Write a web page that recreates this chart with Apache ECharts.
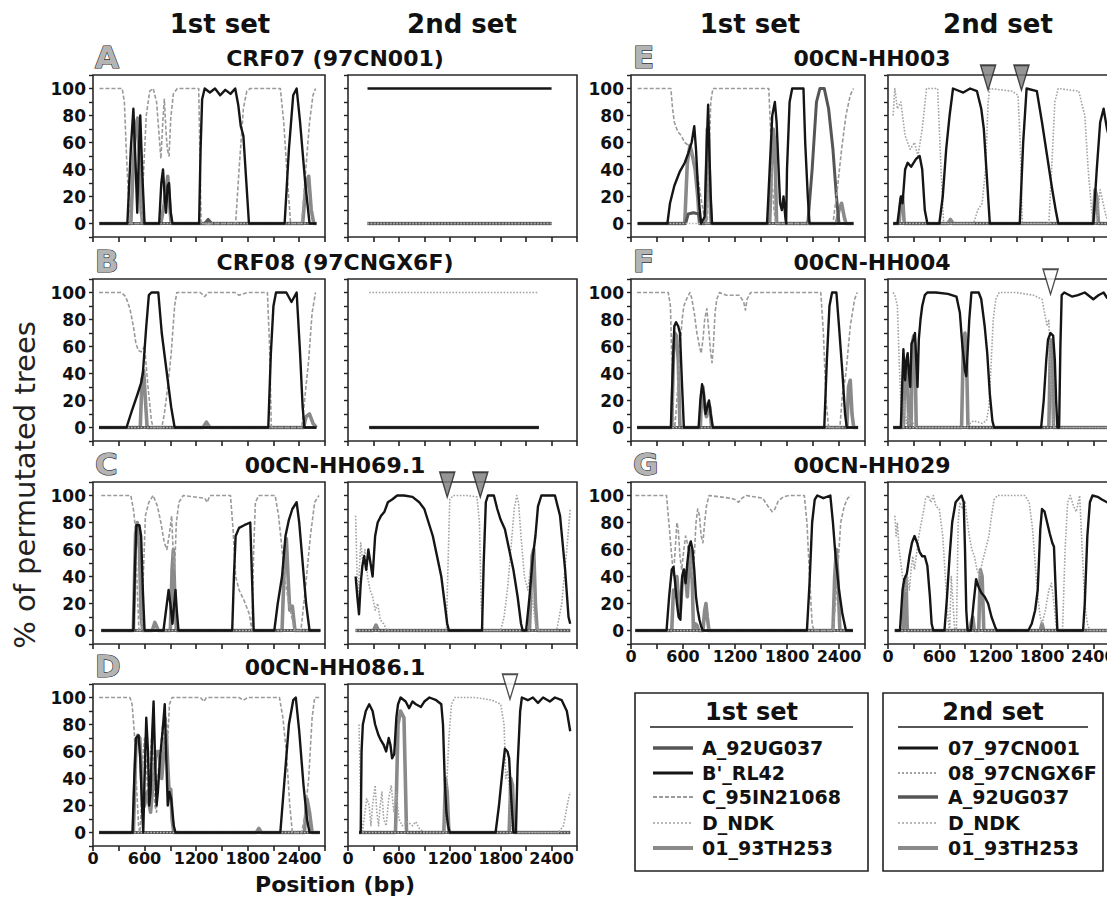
<!DOCTYPE html>
<html><head><meta charset="utf-8">
<script src="https://cdn.jsdelivr.net/npm/echarts@6/dist/echarts.min.js"></script>
<style>html,body{margin:0;padding:0;background:#fff}#c{width:1107px;height:898px}</style>
</head><body><div id="c"></div>
<script>
// ---------------- names and ticks ----------------
const set1Names = ['A_92UG037', "B'_RL42", 'C_95IN21068', 'D_NDK', '01_93TH253'];
const set2Names = ['07_97CN001', '08_97CNGX6F', 'A_92UG037', 'D_NDK', '01_93TH253'];
const xTickLabels = [0, 600, 1200, 1800, 2400];
const yTickLabels = [0, 20, 40, 60, 80, 100];
const panelLetters = ['A', 'B', 'C', 'D', 'E', 'F', 'G'];
const panelNames = ['CRF07 (97CN001)', 'CRF08 (97CNGX6F)', '00CN-HH069.1', '00CN-HH086.1', '00CN-HH003', '00CN-HH004', '00CN-HH029'];

// ---------------- A: CRF07 (97CN001) ----------------
const A1_A = [[75,0],[1300,0],[1340,3],[1380,0],[2600,0]];
const A1_B = [[75,0],[400,0],[440,55],[470,85],[495,45],[515,8],[535,55],[550,80],[575,35],[600,0],[770,0],[795,30],[815,40],[835,18],[850,8],[868,28],[885,30],[905,8],[925,0],[1235,0],[1252,55],[1270,92],[1300,100],[1360,97],[1420,100],[1480,95],[1540,99],[1600,96],[1655,100],[1690,88],[1720,72],[1750,65],[1785,30],[1815,0],[2230,0],[2280,55],[2330,95],[2370,100],[2410,75],[2470,30],[2520,0],[2600,0]];
const A1_C = [[75,100],[340,100],[365,90],[390,50],[420,10],[440,0],[560,0],[590,40],[620,80],[660,98],[700,100],[740,90],[770,65],[790,48],[812,75],[830,92],[848,70],[865,55],[885,50],[905,78],[935,96],[980,100],[1230,100],[1245,50],[1258,0],[1660,0],[1700,40],[1750,85],[1790,98],[1830,100],[2180,100],[2220,75],[2260,35],[2300,0],[2430,0],[2470,35],[2520,75],[2560,95],[2590,100]];
const A1_D = [[75,0],[2600,0]];
const A1_01 = [[75,0],[440,0],[470,45],[495,72],[520,78],[540,50],[560,10],[580,0],[790,0],[830,15],[850,25],[870,35],[890,15],[910,0],[2440,0],[2480,30],[2510,35],[2540,10],[2570,0],[2600,0]];
const A2_07 = [[230,100],[2400,100]];
const A2_08 = [[230,0],[2400,0]];
const A2_A = [[230,0],[2400,0]];
const A2_D = [[230,0],[2400,0]];
const A2_01 = [[230,0],[2400,0]];

// ---------------- B: CRF08 (97CNGX6F) ----------------
const B1_A = [[70,0],[2600,0]];
const B1_B = [[70,0],[390,0],[450,12],[520,25],[560,33],[580,40],[620,75],[650,98],[680,100],[760,100],[800,70],[860,40],[910,15],[950,0],[2040,0],[2070,55],[2100,90],[2130,100],[2250,100],[2310,93],[2370,100],[2410,55],[2440,15],[2460,0],[2600,0]];
const B1_C = [[70,100],[330,100],[380,97],[430,88],[470,75],[500,62],[530,57],[560,56],[600,60],[640,30],[680,5],[700,0],[800,0],[830,10],[870,30],[910,55],[950,90],[975,100],[1250,100],[1300,97],[1340,100],[1650,100],[1700,98],[1800,100],[2030,100],[2055,60],[2075,0],[2430,0],[2470,25],[2510,50],[2550,85],[2590,100]];
const B1_D = [[70,0],[2600,0]];
const B1_01 = [[70,0],[550,0],[570,35],[590,42],[610,20],[630,0],[1280,0],[1320,4],[1360,0],[2450,0],[2480,8],[2520,10],[2560,3],[2600,0]];
const B2_07 = [[250,0],[2250,0]];
const B2_08 = [[250,100],[2250,100]];
const B2_A = [[250,0],[2250,0]];
const B2_D = [[250,0],[2250,0]];
const B2_01 = [[250,0],[2250,0]];

// ---------------- C: 00CN-HH069.1 ----------------
const C1_A = [[96,0],[2646,0]];
const C1_B = [[96,0],[470,0],[490,50],[505,78],[540,78],[560,70],[580,30],[600,0],[820,0],[850,15],[880,30],[900,20],[925,5],[945,20],[960,30],[975,15],[995,0],[1620,0],[1640,40],[1660,70],[1700,76],[1760,78],[1830,80],[1850,40],[1870,0],[2110,0],[2150,20],[2200,40],[2240,70],[2280,82],[2320,90],[2370,95],[2400,80],[2440,50],[2480,20],[2520,0],[2646,0]];
const C1_C = [[96,100],[440,100],[470,90],[495,75],[515,30],[535,0],[565,0],[585,40],[610,85],[650,95],[700,100],[750,92],[790,80],[830,65],[860,60],[890,72],[915,85],[935,55],[950,45],[970,80],[1000,95],[1050,100],[1300,98],[1330,95],[1360,100],[1600,100],[1630,75],[1660,40],[1700,30],[1760,22],[1820,12],[1850,0],[1870,60],[1890,95],[1930,100],[2120,100],[2160,85],[2200,60],[2240,35],[2280,20],[2320,8],[2350,0],[2420,0],[2470,30],[2530,70],[2580,95],[2630,100]];
const C1_D = [[96,0],[2646,0]];
const C1_01 = [[96,0],[470,0],[495,72],[515,80],[540,60],[560,10],[580,0],[690,0],[720,6],[760,0],[900,0],[920,45],[935,60],[950,30],[970,0],[2200,0],[2230,55],[2250,68],[2270,40],[2290,15],[2320,18],[2350,0],[2646,0]];
const C2_07 = [[90,40],[110,25],[130,12],[150,35],[170,48],[190,55],[215,45],[240,60],[260,52],[290,40],[320,70],[350,80],[390,85],[430,88],[470,95],[520,97],[580,100],[660,100],[760,99],[840,95],[900,90],[950,80],[1000,70],[1050,55],[1100,40],[1140,20],[1170,5],[1190,0],[1580,0],[1600,50],[1625,95],[1650,100],[1720,100],[1760,90],[1800,82],[1850,75],[1900,60],[1950,45],[2000,25],[2040,5],[2060,0],[2100,0],[2140,25],[2180,55],[2210,70],[2240,92],[2280,100],[2440,100],[2500,85],[2560,45],[2600,10],[2620,5]];
const C2_08 = [[90,85],[100,60],[115,20],[130,40],[150,65],[175,50],[200,60],[230,40],[260,30],[290,25],[320,15],[350,20],[380,8],[420,5],[460,0],[1160,0],[1180,50],[1200,97],[1240,100],[1400,100],[1520,99],[1550,80],[1570,20],[1590,0],[1800,0],[1840,10],[1880,30],[1920,60],[1960,90],[1990,100],[2010,95],[2040,70],[2080,40],[2120,30],[2150,45],[2180,20],[2210,5],[2240,0],[2460,0],[2520,20],[2580,60],[2620,90]];
const C2_A = [[90,0],[2620,0]];
const C2_D = [[90,0],[2620,0]];
const C2_01 = [[90,0],[300,0],[330,4],[360,0],[2140,0],[2170,55],[2190,60],[2210,20],[2230,0],[2620,0]];
const C2_marks = [1170, 1560];

// ---------------- D: 00CN-HH086.1 ----------------
const D1_A = [[71,0],[2640,0]];
const D1_B = [[71,0],[460,0],[480,40],[500,70],[530,72],[550,55],[570,20],[585,0],[600,40],[620,85],[640,60],[655,20],[670,30],[690,75],[705,97],[720,60],[740,20],[755,30],[780,55],[810,75],[835,95],[850,60],[870,20],[890,30],[910,25],[940,5],[960,0],[2180,0],[2230,40],[2280,80],[2330,98],[2360,100],[2400,75],[2450,35],[2490,10],[2520,0],[2640,0]];
const D1_C = [[71,100],[430,100],[455,95],[480,75],[510,30],[530,5],[545,0],[560,15],[580,55],[600,70],[620,50],[640,25],[660,40],[680,70],[700,55],[720,20],[740,15],[760,45],[790,65],[810,80],[830,60],[850,85],[870,70],[890,95],[920,100],[1250,100],[1290,97],[1320,100],[1700,100],[1750,98],[1800,100],[2170,100],[2210,85],[2250,60],[2290,20],[2320,0],[2430,0],[2470,15],[2510,40],[2550,85],[2580,100],[2640,100]];
const D1_D = [[71,0],[2640,0]];
const D1_01 = [[71,0],[470,0],[500,65],[520,72],[545,70],[560,50],[580,18],[600,20],[630,30],[650,22],[670,15],[690,30],[720,50],[740,60],[770,60],[800,40],[830,65],[855,72],[870,50],[890,25],[905,32],[920,10],[940,0],[1900,0],[1930,3],[1960,0],[2460,0],[2490,25],[2520,15],[2550,0],[2640,0]];
const D2_07 = [[130,0],[150,0],[160,60],[175,80],[210,90],[250,95],[290,90],[320,80],[360,72],[390,68],[420,65],[450,60],[480,70],[500,65],[520,55],[545,58],[570,85],[590,95],[620,100],[680,97],[720,92],[760,97],[800,95],[860,93],[900,97],[960,100],[1040,98],[1100,95],[1120,80],[1140,40],[1160,15],[1180,5],[1200,0],[1740,0],[1780,20],[1820,45],[1850,62],[1880,60],[1900,55],[1920,30],[1950,0],[1980,0],[2000,50],[2030,90],[2050,100],[2120,98],[2180,100],[2240,96],[2300,100],[2380,97],[2440,100],[2520,98],[2580,90],[2620,75]];
const D2_08 = [[130,80],[140,50],[150,20],[170,0],[190,10],[220,25],[250,20],[270,5],[290,20],[320,35],[340,15],[360,5],[380,20],[400,30],[420,10],[450,5],[480,25],[510,35],[540,15],[570,30],[600,10],[640,5],[700,8],[760,5],[800,8],[840,3],[900,0],[1140,0],[1160,30],[1190,70],[1220,95],[1260,100],[1500,100],[1700,98],[1800,95],[1840,80],[1860,40],[1880,45],[1900,35],[1920,10],[1940,0],[2480,0],[2540,5],[2600,25],[2620,30]];
const D2_A = [[130,0],[2620,0]];
const D2_D = [[130,0],[2620,0]];
const D2_01 = [[130,0],[560,0],[590,80],[620,90],[660,85],[690,0],[1130,0],[1150,40],[1170,30],[1190,0],[1900,0],[1920,40],[1940,35],[1960,0],[2620,0]];
const D2_marks = [1910];

// ---------------- E: 00CN-HH003 ----------------
const E1_A = [[77,0],[630,0],[660,7],[720,8],[780,7],[800,0],[2040,0],[2090,40],[2140,90],[2180,100],[2230,100],[2280,85],[2330,55],[2370,20],[2400,0],[2567,0]];
const E1_B = [[77,0],[420,0],[450,15],[500,28],[560,38],[620,45],[660,52],[700,60],[730,72],[750,55],[770,30],[790,12],[810,0],[850,5],[875,60],[890,88],[905,50],[920,20],[935,0],[1570,0],[1600,40],[1630,80],[1660,90],[1680,75],[1700,45],[1720,15],[1740,10],[1760,20],[1780,5],[1790,0],[1800,40],[1830,90],[1860,100],[1990,100],[2010,60],[2040,20],[2060,0],[2567,0]];
const E1_C = [[77,100],[460,100],[480,85],[500,75],[540,68],[580,65],[620,60],[660,58],[700,52],[740,45],[770,35],[800,22],[830,10],[860,0],[880,0],[900,45],[920,90],[945,100],[1590,100],[1610,70],[1630,30],[1650,10],[1670,0],[2330,0],[2380,25],[2430,55],[2480,80],[2530,95],[2567,100]];
const E1_D = [[77,0],[2567,0]];
const E1_01 = [[77,0],[620,0],[650,45],[680,58],[710,50],[740,40],[770,20],[790,0],[860,0],[880,70],[895,65],[910,20],[925,0],[1600,0],[1620,40],[1640,70],[1660,60],[1680,0],[2370,0],[2400,10],[2430,15],[2460,5],[2480,0],[2567,0]];
const E2_07 = [[60,0],[110,0],[150,20],[170,15],[200,40],[230,45],[270,42],[330,48],[370,50],[400,40],[430,10],[460,0],[600,0],[640,20],[680,55],[720,80],[760,100],[880,97],[960,100],[1040,98],[1090,85],[1120,70],[1150,40],[1190,0],[1540,0],[1580,60],[1620,100],[1740,98],[1800,75],[1860,50],[1920,25],[1960,10],[1990,0],[2400,0],[2440,40],[2480,75],[2520,85],[2560,70],[2600,60],[2640,85],[2700,75]];
const E2_08 = [[60,80],[80,100],[110,85],[150,90],[200,65],[260,55],[310,60],[350,50],[400,70],[450,100],[580,100],[620,40],[650,0],[1000,0],[1050,10],[1100,15],[1140,40],[1170,90],[1190,100],[1450,98],[1520,95],[1545,60],[1570,0],[1880,0],[1920,50],[1950,90],[1990,100],[2230,98],[2300,80],[2340,40],[2380,10],[2400,0],[2440,0],[2480,25],[2550,5],[2600,0],[2700,0]];
const E2_A = [[60,0],[2700,0]];
const E2_D = [[60,0],[2700,0]];
const E2_01 = [[60,0],[130,0],[150,18],[170,20],[190,0],[700,0],[730,3],[760,0],[2400,0],[2420,25],[2440,20],[2460,0],[2700,0]];
const E2_marks = [1170, 1560];

// ---------------- F: 00CN-HH004 ----------------
const F1_A = [[70,0],[2620,0]];
const F1_B = [[70,0],[460,0],[480,40],[500,75],[520,78],[545,75],[565,70],[590,30],[610,0],[780,0],[800,20],[820,32],[840,25],[860,10],[880,15],[900,20],[920,10],[945,0],[2230,0],[2260,50],[2290,90],[2320,100],[2370,100],[2400,75],[2440,40],[2470,10],[2490,0],[2620,0]];
const F1_C = [[70,100],[430,100],[455,90],[475,40],[490,5],[505,0],[530,20],[560,55],[590,80],[610,90],[640,95],[680,100],[700,96],[730,85],[760,70],[790,60],[810,55],[830,65],[850,80],[875,88],[900,70],[920,55],[935,48],[950,60],[970,85],[990,95],[1020,100],[1100,98],[1250,98],[1300,93],[1320,87],[1340,95],[1380,100],[1700,100],[1900,100],[2190,100],[2220,70],[2250,20],[2280,0],[2410,0],[2440,25],[2480,40],[2530,75],[2580,95],[2610,100]];
const F1_D = [[70,0],[2620,0]];
const F1_01 = [[70,0],[470,0],[490,55],[505,70],[525,68],[545,50],[565,0],[800,0],[815,25],[830,30],[850,15],[870,8],[890,18],[910,15],[930,0],[2490,0],[2510,30],[2530,35],[2550,10],[2570,0],[2620,0]];
const F2_07 = [[60,0],[150,0],[165,30],[180,58],[190,45],[200,35],[215,50],[230,55],[245,40],[260,30],[275,62],[295,65],[315,70],[330,50],[345,30],[360,65],[380,80],[400,90],[430,98],[460,100],[560,100],[700,99],[800,97],[840,85],[870,60],[900,42],[915,38],[930,55],[950,80],[975,100],[1060,100],[1090,95],[1130,75],[1160,55],[1190,25],[1220,5],[1240,0],[1790,0],[1820,20],[1850,50],[1870,65],[1900,70],[1930,68],[1950,50],[1965,20],[1980,0],[2000,0],[2015,60],[2030,98],[2060,100],[2150,97],[2220,98],[2300,100],[2400,95],[2460,98],[2520,100],[2560,96],[2700,97]];
const F2_08 = [[60,100],[80,98],[110,90],[130,50],[150,20],[165,5],[180,0],[190,20],[200,10],[215,3],[230,10],[250,3],[280,5],[320,0],[900,0],[1000,5],[1100,3],[1150,5],[1180,15],[1200,40],[1230,80],[1260,95],[1300,100],[1500,100],[1700,98],[1800,95],[1830,85],[1860,75],[1880,80],[1900,40],[1920,10],[1940,0],[2700,0]];
const F2_A = [[60,0],[2700,0]];
const F2_D = [[60,0],[2700,0]];
const F2_01 = [[60,0],[180,0],[200,45],[215,48],[230,30],[245,0],[270,0],[285,62],[300,68],[315,60],[330,0],[860,0],[880,60],[900,70],[920,45],[935,0],[1880,0],[1900,65],[1920,60],[1935,0],[2700,0]];
const F2_marks = [1900];

// ---------------- G: 00CN-HH029 ----------------
const G1_A = [[50,0],[2560,0]];
const G1_B = [[50,0],[410,0],[440,25],[470,45],[490,47],[510,35],[530,20],[550,10],[570,8],[590,40],[610,45],[630,35],[650,50],[670,62],[690,66],[710,60],[730,45],[750,25],[770,15],[790,8],[810,3],[830,0],[2030,0],[2060,35],[2090,80],[2120,97],[2150,100],[2220,98],[2300,100],[2330,80],[2360,55],[2400,30],[2440,12],[2480,0],[2560,0]];
const G1_C = [[50,100],[410,100],[430,85],[450,70],[470,55],[490,40],[510,60],[530,80],[545,75],[565,55],[585,45],[610,60],[630,70],[650,65],[670,55],[690,50],[710,40],[730,55],[750,80],[770,90],[790,85],[810,70],[830,65],[850,80],[870,92],[900,100],[1150,98],[1200,97],[1240,95],[1280,98],[1330,100],[1520,98],[1580,92],[1630,88],[1660,90],[1700,96],[1760,99],[1820,100],[2000,100],[2030,80],[2060,40],[2090,5],[2110,0],[2330,0],[2360,20],[2390,50],[2420,80],[2460,92],[2500,98],[2540,100]];
const G1_D = [[50,0],[2560,0]];
const G1_01 = [[50,0],[470,0],[490,30],[510,25],[530,40],[550,20],[570,15],[590,35],[610,45],[630,40],[650,25],[670,50],[690,60],[710,30],[720,0],[740,5],[760,4],[780,0],[830,0],[850,15],[865,20],[880,10],[900,0],[2330,0],[2350,40],[2370,60],[2390,35],[2410,0],[2560,0]];
const G2_07 = [[80,0],[140,0],[170,30],[190,38],[220,42],[250,55],[280,65],[310,70],[340,65],[370,58],[400,55],[430,55],[460,48],[490,25],[510,5],[530,0],[660,0],[690,25],[720,55],[750,80],[790,95],[830,98],[860,100],[885,95],[900,60],[915,15],[930,0],[970,0],[1000,20],[1030,38],[1060,32],[1090,28],[1130,25],[1170,20],[1210,10],[1250,3],[1270,0],[1640,0],[1680,5],[1720,15],[1750,30],[1780,75],[1800,90],[1830,88],[1860,80],[1890,72],[1920,65],[1940,62],[1960,30],[1980,0],[2280,0],[2300,20],[2330,70],[2360,95],[2390,100],[2450,99],[2500,97],[2560,95],[2700,93]];
const G2_08 = [[80,85],[95,70],[110,80],[130,60],[150,50],[170,40],[190,35],[210,28],[230,40],[250,30],[270,45],[290,55],[310,45],[330,55],[360,70],[390,80],[420,90],[440,98],[470,100],[500,95],[530,100],[560,92],[600,90],[640,70],[680,30],[700,10],[720,0],[740,40],[760,20],[780,0],[800,0],[820,80],[840,95],[870,90],[900,96],[920,85],[950,70],[980,60],[1010,55],[1040,45],[1070,40],[1100,50],[1140,60],[1180,70],[1210,85],[1240,97],[1280,100],[1600,100],[1650,95],[1690,75],[1720,50],[1750,25],[1780,10],[1800,5],[1840,15],[1880,30],[1910,35],[1940,20],[1970,0],[2040,0],[2070,60],[2100,95],[2130,100],[2170,92],[2200,88],[2240,100],[2270,60],[2300,20],[2330,5],[2360,0],[2700,0]];
const G2_A = [[80,0],[2700,0]];
const G2_D = [[80,0],[2700,0]];
const G2_01 = [[80,0],[180,0],[195,35],[210,40],[225,0],[950,0],[970,5],[990,10],[1010,0],[1060,0],[1080,45],[1100,40],[1120,0],[1780,0],[1800,5],[1820,0],[2700,0]];

// ---------------- layout / styles ----------------
const FONT = 'DejaVu Sans';
const cols = [{left: 93, width: 232}, {left: 348, width: 229}, {left: 631, width: 234}, {left: 888, width: 231}];
const rowTops = [75, 279, 482, 684];
const GRID_H = 162;

const style1 = [
  {color: '#555', width: 3, type: 'solid'},
  {color: '#151515', width: 2.4, type: 'solid'},
  {color: '#9a9a9a', width: 1.6, type: [4, 2]},
  {color: '#b8b8b8', width: 1.6, type: 'dotted'},
  {color: '#8a8a8a', width: 3.6, type: 'solid'}
];
const style2 = [
  {color: '#151515', width: 2.4, type: 'solid'},
  {color: '#a3a3a3', width: 1.6, type: 'dotted'},
  {color: '#555', width: 3, type: 'solid'},
  {color: '#b8b8b8', width: 1.6, type: 'dotted'},
  {color: '#8a8a8a', width: 3.6, type: 'solid'}
];
const order1 = [4, 0, 3, 2, 1];
const order2 = [4, 2, 3, 1, 0];

const panels = [
  {row: 0, col: 0, set: 1, lines: [A1_A, A1_B, A1_C, A1_D, A1_01]},
  {row: 0, col: 1, set: 2, lines: [A2_07, A2_08, A2_A, A2_D, A2_01]},
  {row: 1, col: 0, set: 1, lines: [B1_A, B1_B, B1_C, B1_D, B1_01]},
  {row: 1, col: 1, set: 2, lines: [B2_07, B2_08, B2_A, B2_D, B2_01]},
  {row: 2, col: 0, set: 1, lines: [C1_A, C1_B, C1_C, C1_D, C1_01]},
  {row: 2, col: 1, set: 2, lines: [C2_07, C2_08, C2_A, C2_D, C2_01], marks: C2_marks, filled: true},
  {row: 3, col: 0, set: 1, lines: [D1_A, D1_B, D1_C, D1_D, D1_01]},
  {row: 3, col: 1, set: 2, lines: [D2_07, D2_08, D2_A, D2_D, D2_01], marks: D2_marks, filled: false},
  {row: 0, col: 2, set: 1, lines: [E1_A, E1_B, E1_C, E1_D, E1_01]},
  {row: 0, col: 3, set: 2, lines: [E2_07, E2_08, E2_A, E2_D, E2_01], marks: E2_marks, filled: true},
  {row: 1, col: 2, set: 1, lines: [F1_A, F1_B, F1_C, F1_D, F1_01]},
  {row: 1, col: 3, set: 2, lines: [F2_07, F2_08, F2_A, F2_D, F2_01], marks: F2_marks, filled: false},
  {row: 2, col: 2, set: 1, lines: [G1_A, G1_B, G1_C, G1_D, G1_01]},
  {row: 2, col: 3, set: 2, lines: [G2_07, G2_08, G2_A, G2_D, G2_01]}
];

const grid = [], xAxis = [], yAxis = [], series = [];
panels.forEach((p, i) => {
  const c = cols[p.col];
  grid.push({left: c.left, top: rowTops[p.row], width: c.width, height: GRID_H, show: true,
    borderColor: '#2a2a2a', borderWidth: 1.6, backgroundColor: 'rgba(0,0,0,0)', containLabel: false, outerBoundsMode: 'none'});
  const showX = (p.col < 2 && p.row === 3) || (p.col >= 2 && p.row === 2);
  const showY = (p.col === 0 || p.col === 2);
  xAxis.push({gridIndex: i, type: 'value', min: 0, max: 2700, interval: 300, position: 'bottom',
    axisLine: {show: false, onZero: false}, splitLine: {show: false},
    axisTick: {show: true, length: 5, lineStyle: {color: '#222', width: 1.6}},
    axisLabel: {show: showX, margin: 4, color: '#111', fontFamily: FONT, fontWeight: 'bold', fontSize: 16,
      formatter: v => xTickLabels.includes(v) ? String(v) : ''}});
  yAxis.push({gridIndex: i, type: 'value', min: -10, max: 110, interval: 10, position: 'left',
    axisLine: {show: false, onZero: false}, splitLine: {show: false},
    axisTick: {show: true, length: 4, lineStyle: {color: '#222', width: 1.4}},
    axisLabel: {show: showY, margin: 7, color: '#111', fontFamily: FONT, fontWeight: 'bold', fontSize: 17,
      formatter: v => yTickLabels.includes(v) ? String(v) : ''}});
  const st = p.set === 1 ? style1 : style2;
  const ord = p.set === 1 ? order1 : order2;
  const names = p.set === 1 ? set1Names : set2Names;
  ord.forEach(k => {
    series.push({type: 'line', name: names[k], xAxisIndex: i, yAxisIndex: i, data: p.lines[k],
      showSymbol: false, symbol: 'none', silent: true, animation: false, clip: true,
      lineStyle: {color: st[k].color, width: st[k].width, type: st[k].type, join: 'round'}});
  });
  if (p.marks) {
    series.push({type: 'scatter', xAxisIndex: i, yAxisIndex: i, data: p.marks.map(x => [x, 108]),
      symbol: 'triangle', symbolRotate: 180, symbolSize: [15, 25], clip: false, silent: true, animation: false, z: 10,
      itemStyle: {color: p.filled ? '#7a7a7a' : '#ffffff', borderColor: '#222', borderWidth: 1.6}});
  }
});

// ---------------- text & legend graphics ----------------
const g = [];
function txt(text, x, y, size, opts) {
  opts = opts || {};
  g.push({type: 'text', x: x, y: y, rotation: opts.rot || 0, silent: true,
    style: {text: text, font: (opts.weight || 'bold') + ' ' + size + 'px ' + FONT,
      fill: opts.fill || '#111', stroke: opts.stroke || null, lineWidth: opts.lw || 0,
      align: opts.align || 'center', verticalAlign: 'middle', textAlign: opts.align || 'center', textVerticalAlign: 'middle'}});
}
// column headers
txt('1st set', 220, 24, 26); txt('2nd set', 462, 24, 26);
txt('1st set', 750, 24, 26); txt('2nd set', 998, 24, 26);
// panel titles
panelNames.forEach((n, k) => {
  const left = k < 4;
  const row = left ? k : k - 4;
  const y = rowTops[row] - 17;
  txt(panelLetters[k], left ? 95 : 633, y - 1, 31, {align: 'left', fill: '#b4b4b4', stroke: '#2a2a2a', lw: 1.2});
  txt(n, left ? 335 : 872, y, 22);
});
// axis titles
txt('% of permutated trees', 25, 485, 29, {rot: Math.PI / 2, weight: 'normal', fill: '#222'});
txt('Position (bp)', 335, 884, 22);

// legend boxes
function legendBox(x, y, w, h, title, names, styles, swX, txtX) {
  g.push({type: 'rect', silent: true, shape: {x: x, y: y, width: w, height: h},
    style: {fill: 'rgba(0,0,0,0)', stroke: '#222', lineWidth: 1.6}});
  txt(title, x + w / 2, y + 19, 24);
  g.push({type: 'line', silent: true, shape: {x1: x + 15, y1: y + 34, x2: x + w - 15, y2: y + 34},
    style: {stroke: '#555', lineWidth: 2}});
  const rows = [55, 80, 104, 130, 155];
  names.forEach((n, k) => {
    const st = styles[k];
    g.push({type: 'line', silent: true, shape: {x1: swX, y1: y + rows[k], x2: swX + 40, y2: y + rows[k]},
      style: {stroke: st.color, lineWidth: st.width + 0.6, lineDash: st.type === 'dotted' ? [2, 2] : (Array.isArray(st.type) ? st.type : null)}});
    txt(n, txtX, y + rows[k], 19, {align: 'left'});
  });
}
legendBox(635, 693, 233, 178, '1st set', set1Names, style1, 653, 702);
legendBox(883, 693, 220, 178, '2nd set', set2Names, style2, 898, 948);

const chart = echarts.init(document.getElementById('c'), null, {renderer: 'svg', width: 1107, height: 898});
chart.setOption({animation: false, backgroundColor: '#fff', grid: grid, xAxis: xAxis, yAxis: yAxis, series: series, graphic: g});
</script></body></html>
